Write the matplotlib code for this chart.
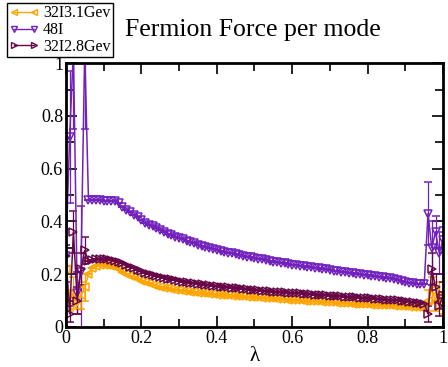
import numpy as np
import matplotlib
matplotlib.use("Agg")
import matplotlib.pyplot as plt
from matplotlib.lines import Line2D
from matplotlib.ticker import MultipleLocator, FuncFormatter

plt.rcParams['font.family'] = ['Liberation Serif', 'DejaVu Serif']

# lambda grid: noisy ends + smooth middle
lam_lo = [0.00, 0.01, 0.02, 0.03, 0.04, 0.05]
lam_mid = np.round(np.arange(0.06, 0.955, 0.01), 2)
lam_hi = [0.96, 0.97, 0.98, 0.99, 1.00]

# 32I3.1Gev
f31_lo = [0.22, 0.10, 0.13, 0.08, 0.12, 0.15]
f31_lo_err = [0.05, 0.04, 0.06, 0.03, 0.05, 0.05]
f31_mid = [0.200, 0.225, 0.232, 0.235, 0.236, 0.235, 0.232, 0.226, 0.218, 0.210,
           0.202, 0.195, 0.188, 0.181, 0.175, 0.170, 0.165, 0.160, 0.156, 0.152,
           0.149, 0.146, 0.143, 0.141, 0.139, 0.137, 0.135, 0.133, 0.132, 0.130,
           0.129, 0.127, 0.126, 0.124, 0.123, 0.122, 0.121, 0.120, 0.119, 0.118,
           0.117, 0.116, 0.115, 0.114, 0.113, 0.112, 0.111, 0.110, 0.109, 0.108,
           0.107, 0.106, 0.105, 0.104, 0.103, 0.102, 0.101, 0.100, 0.099, 0.098,
           0.097, 0.097, 0.096, 0.095, 0.094, 0.093, 0.092, 0.092, 0.091, 0.090,
           0.089, 0.088, 0.088, 0.087, 0.086, 0.085, 0.085, 0.084, 0.083, 0.082,
           0.082, 0.081, 0.080, 0.079, 0.078, 0.077, 0.076, 0.075, 0.074, 0.073]
f31_hi = [0.10, 0.14, 0.10, 0.12, 0.09]
f31_hi_err = [0.04, 0.05, 0.04, 0.05, 0.04]

# 48I
f48_lo = [0.27, 0.72, 1.05, 0.13, 0.21, 1.05]
f48_lo_err = [0.10, 0.25, 0.30, 0.08, 0.25, 0.30]
f48_mid = [0.480, 0.480, 0.480, 0.480, 0.479, 0.479, 0.478, 0.476, 0.470, 0.455,
           0.445, 0.435, 0.425, 0.415, 0.405, 0.395, 0.388, 0.381, 0.374, 0.367,
           0.360, 0.354, 0.348, 0.342, 0.337, 0.332, 0.327, 0.322, 0.317, 0.312,
           0.308, 0.304, 0.300, 0.296, 0.292, 0.289, 0.285, 0.282, 0.279, 0.276,
           0.273, 0.270, 0.267, 0.264, 0.261, 0.258, 0.256, 0.253, 0.251, 0.248,
           0.246, 0.243, 0.241, 0.239, 0.236, 0.234, 0.232, 0.230, 0.228, 0.226,
           0.224, 0.222, 0.220, 0.218, 0.216, 0.214, 0.212, 0.210, 0.208, 0.206,
           0.204, 0.202, 0.200, 0.198, 0.196, 0.194, 0.192, 0.190, 0.188, 0.186,
           0.184, 0.182, 0.178, 0.174, 0.170, 0.167, 0.165, 0.164, 0.163, 0.162]
f48_hi = [0.43, 0.30, 0.36, 0.28, 0.33]
f48_hi_err = [0.12, 0.10, 0.06, 0.08, 0.05]

# 32I2.8Gev
f28_lo = [0.27, 0.05, 0.36, 0.10, 0.22, 0.29]
f28_lo_err = [0.04, 0.03, 0.08, 0.05, 0.06, 0.05]
f28_mid = [0.250, 0.255, 0.256, 0.256, 0.256, 0.256, 0.255, 0.252, 0.247, 0.241,
           0.235, 0.229, 0.223, 0.217, 0.211, 0.206, 0.201, 0.197, 0.193, 0.189,
           0.186, 0.183, 0.180, 0.177, 0.175, 0.172, 0.170, 0.168, 0.166, 0.164,
           0.162, 0.160, 0.158, 0.157, 0.155, 0.153, 0.152, 0.150, 0.149, 0.147,
           0.146, 0.144, 0.143, 0.142, 0.140, 0.139, 0.138, 0.137, 0.136, 0.134,
           0.133, 0.132, 0.131, 0.130, 0.129, 0.128, 0.127, 0.126, 0.125, 0.124,
           0.123, 0.122, 0.121, 0.120, 0.119, 0.118, 0.117, 0.116, 0.115, 0.114,
           0.113, 0.112, 0.111, 0.110, 0.109, 0.108, 0.107, 0.106, 0.105, 0.104,
           0.103, 0.102, 0.101, 0.100, 0.098, 0.096, 0.094, 0.092, 0.090, 0.088]
f28_hi = [0.05, 0.22, 0.15, 0.08, 0.12]
f28_hi_err = [0.03, 0.06, 0.05, 0.04, 0.05]

labels = ["32I3.1Gev", "48I", "32I2.8Gev"]
colors = ["#FFA500", "#7221BC", "#670748"]
markers = ["<", "v", ">"]

lam = np.concatenate([lam_lo, lam_mid, lam_hi])
series = [
    (np.concatenate([f31_lo, f31_mid, f31_hi]),
     np.concatenate([f31_lo_err, np.zeros(len(lam_mid)), f31_hi_err])),
    (np.concatenate([f48_lo, f48_mid, f48_hi]),
     np.concatenate([f48_lo_err, np.zeros(len(lam_mid)), f48_hi_err])),
    (np.concatenate([f28_lo, f28_mid, f28_hi]),
     np.concatenate([f28_lo_err, np.zeros(len(lam_mid)), f28_hi_err])),
]

fig = plt.figure(figsize=(4.48, 3.67), dpi=100)
ax = fig.add_axes([0.147, 0.109, 0.842, 0.719])

handles = []
for (y, e), lab, c, m in zip(series, labels, colors, markers):
    ax.errorbar(lam, y, yerr=e, color=c, marker=m, ms=5.5, mfc='none',
                mec=c, mew=1.1, lw=1.1, capsize=3, elinewidth=0.9)
    handles.append(Line2D([], [], color=c, marker=m, ms=4.5, mfc='none',
                          mec=c, mew=1.0, lw=1.0))

ax.set_xlim(0, 1)
ax.set_ylim(0, 1)
ax.xaxis.set_major_locator(MultipleLocator(0.2))
ax.xaxis.set_minor_locator(MultipleLocator(0.1))
ax.yaxis.set_major_locator(MultipleLocator(0.2))
ax.yaxis.set_minor_locator(MultipleLocator(0.1))
fmt = FuncFormatter(lambda v, p: "%g" % round(v, 2))
ax.xaxis.set_major_formatter(fmt)
ax.yaxis.set_major_formatter(fmt)
ax.tick_params(which='both', direction='in', top=True, right=True,
               width=1.2, labelsize=13, pad=2)
ax.tick_params(which='major', length=8)
ax.tick_params(which='minor', length=6)
for s in ax.spines.values():
    s.set_linewidth(2)

ax.set_xlabel("λ", fontsize=15, labelpad=0)
fig.text(0.565, 0.918, "Fermion Force per mode", fontsize=18.5, ha='center', va='center')

leg = fig.legend(handles=handles, labels=labels, loc='upper left',
                 bbox_to_anchor=(0.016, 0.992), borderaxespad=0, fontsize=11.5,
                 numpoints=2, handlelength=1.8, handletextpad=0.3,
                 labelspacing=0.05, borderpad=0.15, fancybox=False,
                 framealpha=1, edgecolor='black')
leg.get_frame().set_linewidth(1.0)

fig.savefig("out.png", dpi=100)
